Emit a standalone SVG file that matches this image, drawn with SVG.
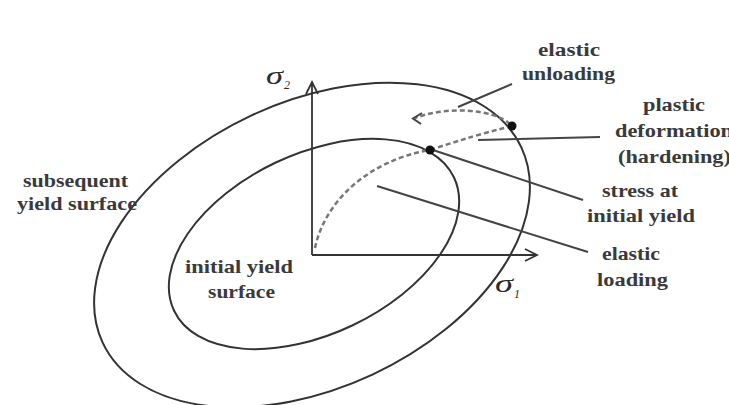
<svg xmlns="http://www.w3.org/2000/svg" width="729" height="405" viewBox="0 0 729 405">
<style>
.curve{fill:none;stroke:#333;stroke-width:2}
.axis{fill:none;stroke:#333;stroke-width:1.8}
.lead{fill:none;stroke:#444;stroke-width:2}
.dash{fill:none;stroke:#777;stroke-width:2.5;stroke-dasharray:5 3}
.lbl{font-family:"Liberation Serif","Times New Roman",serif;font-size:19px;font-weight:bold;fill:#3a3a3a}
.sym{font-family:"Liberation Serif","Times New Roman",serif;font-style:italic;fill:#2b2b2b}
</style>
<rect width="729" height="405" fill="#fff"/>
<g id="subsequent-yield-surface">
<ellipse class="curve" cx="312" cy="245" rx="231" ry="143" transform="rotate(-25 312 245)"/>
</g>
<g id="initial-yield-surface">
<ellipse class="curve" cx="314" cy="244" rx="155" ry="90" transform="rotate(-25.5 314 244)"/>
</g>
<g id="axes">
<path class="axis" d="M312 255 V82 M306 94 L312 82 L318 94"/>
<path class="axis" d="M312 255 H537 M525 249 L537 255 L525 261"/>
<text class="sym" x="266" y="84" font-size="26" textLength="17" lengthAdjust="spacingAndGlyphs">σ</text>
<text class="sym" x="284" y="89" font-size="12" font-style="normal">2</text>
<text class="sym" x="495" y="292" font-size="26" textLength="18" lengthAdjust="spacingAndGlyphs">σ</text>
<text class="sym" x="514" y="298" font-size="12" font-style="normal">1</text>
</g>
<g id="connectors">
<path class="dash" d="M315 248 C325 200 370 160 430 150"/>
<path class="dash" d="M430 150 Q475 135 512 126"/>
<path class="dash" d="M510 124 C495 110 450 105 415 118"/>
<path class="lead" d="M422 113 L413 118.5 L421 124"/>
<path class="lead" d="M458 107 L512 84"/>
<path class="lead" d="M478 140 L600 137"/>
<path class="lead" d="M433 150 L583 200"/>
<path class="lead" d="M377 186 L588 252"/>
</g>
<g id="stress-points">
<circle cx="430" cy="150" r="4.5" fill="#111"/>
<circle cx="512" cy="126" r="4.5" fill="#111"/>
</g>
<g id="label-elastic-unloading">
<text class="lbl" x="538" y="56" textLength="62" lengthAdjust="spacingAndGlyphs">elastic</text>
<text class="lbl" x="522" y="80" textLength="93" lengthAdjust="spacingAndGlyphs">unloading</text>
</g>
<g id="label-plastic-deformation">
<text class="lbl" x="643" y="111" textLength="62" lengthAdjust="spacingAndGlyphs">plastic</text>
<text class="lbl" x="615" y="137" textLength="118" lengthAdjust="spacingAndGlyphs">deformation</text>
<text class="lbl" x="618" y="163" textLength="113" lengthAdjust="spacingAndGlyphs">(hardening)</text>
</g>
<g id="label-stress-initial-yield">
<text class="lbl" x="602" y="197" textLength="76" lengthAdjust="spacingAndGlyphs">stress at</text>
<text class="lbl" x="587" y="222" textLength="108" lengthAdjust="spacingAndGlyphs">initial yield</text>
</g>
<g id="label-elastic-loading">
<text class="lbl" x="602" y="260" textLength="58" lengthAdjust="spacingAndGlyphs">elastic</text>
<text class="lbl" x="597" y="286" textLength="71" lengthAdjust="spacingAndGlyphs">loading</text>
</g>
<g id="label-subsequent">
<text class="lbl" x="23" y="187" textLength="105" lengthAdjust="spacingAndGlyphs">subsequent</text>
<text class="lbl" x="17" y="210" textLength="120" lengthAdjust="spacingAndGlyphs">yield surface</text>
</g>
<g id="label-initial">
<text class="lbl" x="185" y="273" textLength="108" lengthAdjust="spacingAndGlyphs">initial yield</text>
<text class="lbl" x="208" y="298" textLength="67" lengthAdjust="spacingAndGlyphs">surface</text>
</g>
</svg>
